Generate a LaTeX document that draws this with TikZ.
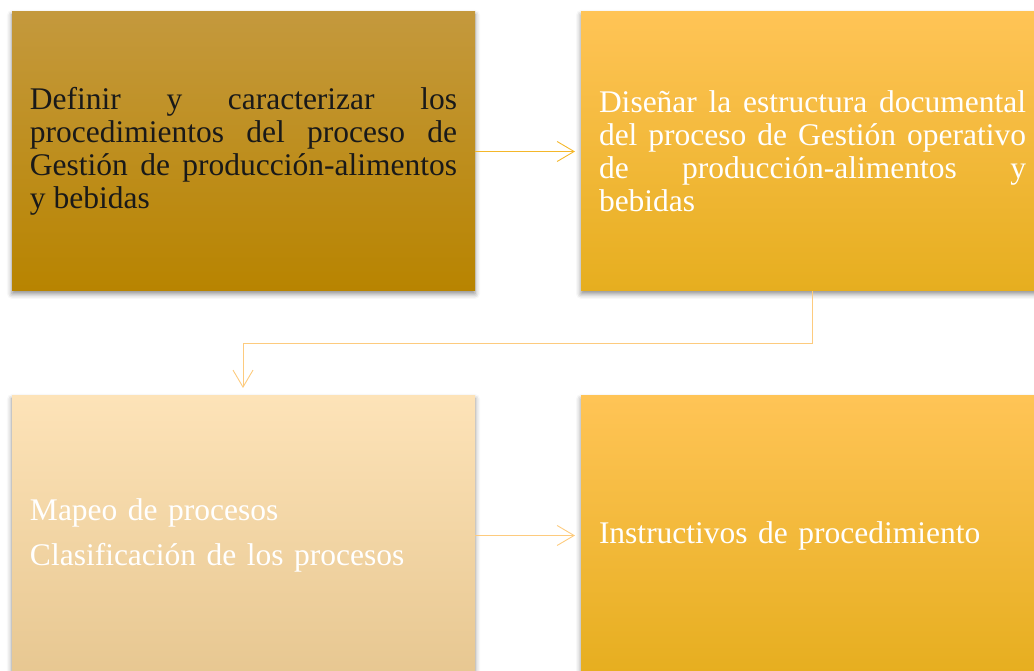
\documentclass[tikz,border=0pt]{standalone}
\usepackage{fontspec}
\setmainfont{Liberation Serif}
\usetikzlibrary{arrows.meta,shadows.blur}
\definecolor{goldtop}{HTML}{C4993D}
\definecolor{goldbot}{HTML}{B88400}
\definecolor{ambtop}{HTML}{FFC456}
\definecolor{ambbot}{HTML}{E6AE1F}
\definecolor{peachtop}{HTML}{FDE3B8}
\definecolor{peachbot}{HTML}{E7C791}
\definecolor{arrgold}{HTML}{F4B72A}
\definecolor{arrpeach}{HTML}{FDCB7E}
\tikzset{
  stepbox/.style={rectangle, inner xsep=18pt, inner ysep=0pt, text width=427pt,
    minimum height=279pt, align=justify, shading=axis,
    font=\fontsize{31.5}{33}\selectfont,
    blur shadow={shadow xshift=0pt, shadow yshift=-3pt, shadow blur radius=5pt, shadow opacity=45}},
  conn/.style={line width=0.9pt, -{Straight Barb[length=17pt,width=20pt,line width=0.9pt]}}
}
\begin{document}
\begin{tikzpicture}[x=1pt,y=1pt]
\useasboundingbox (0,0) rectangle (1034,671);
\clip (0,0) rectangle (1034,671);
\hyphenpenalty=10000
\node[stepbox, top color=goldtop, bottom color=goldbot, text=black!90] (b1) at (243.5,519.5)
  {Definir y caracterizar los\linebreak procedimientos del proceso de\linebreak Gestión de producción-alimentos\linebreak y bebidas};
\node[stepbox, top color=ambtop, bottom color=ambbot, text=white] (b2) at (812.5,519.5)
  {Diseñar la estructura documental\linebreak del proceso de Gestión operativo\linebreak de producción-alimentos y\linebreak bebidas};
\node[stepbox, top color=peachtop, bottom color=peachbot, text=white, align=left] (b3) at (243.5,135.5)
  {Mapeo de procesos\\[12pt]Clasificación de los procesos};
\node[stepbox, top color=ambtop, bottom color=ambbot, text=white, align=left] (b4) at (812.5,135.5)
  {Instructivos de procedimiento};
\coordinate (t1) at (575,519.5);
\coordinate (t3) at (575,135.5);
\coordinate (k1) at (812,328);
\coordinate (k2) at (243,328);
\coordinate (t2) at (243,283);
\draw[conn, arrgold] (b1.east) -- (t1);
\draw[conn, arrpeach] (b3.east) -- (t3);
\draw[conn, arrpeach] (b2.south -| k1) -- (k1) -- (k2) -- (t2);
\end{tikzpicture}
\end{document}
